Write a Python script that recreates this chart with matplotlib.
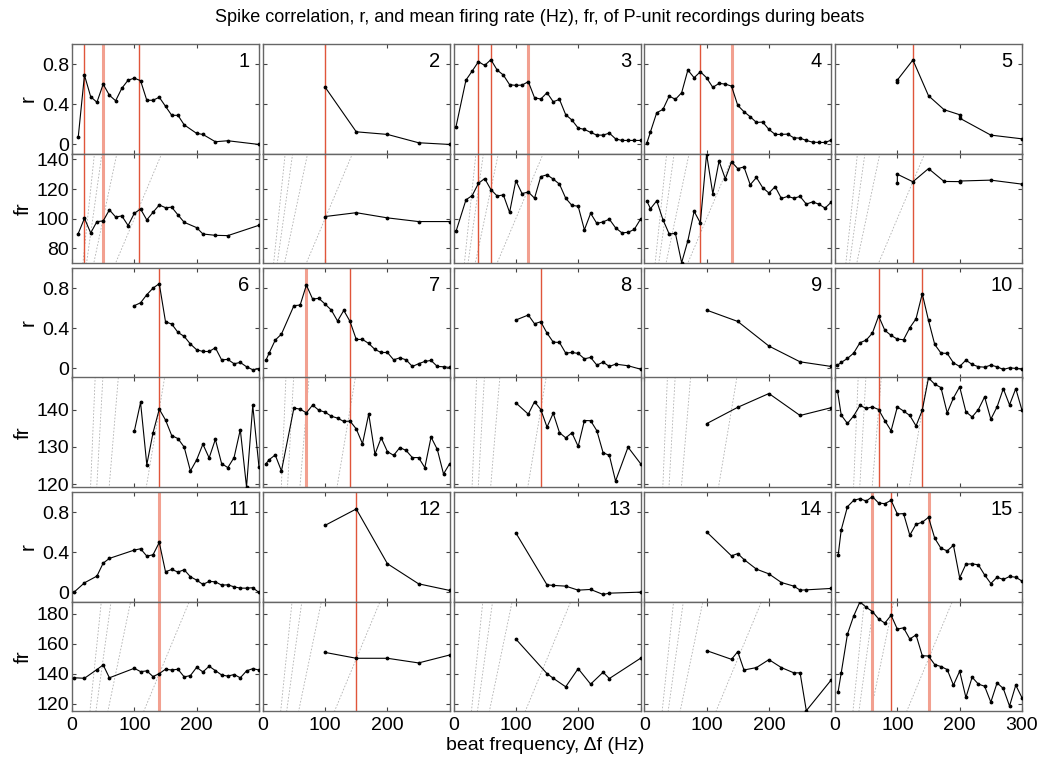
import numpy as np
import matplotlib.pyplot as plt

plt.rcParams['font.family'] = ['Liberation Sans', 'DejaVu Sans']

# beat frequencies (Hz), spike correlation r and firing rate fr, per recording
df1 = [10, 20, 30, 40, 50, 60, 70, 80, 90, 100, 110, 120, 130, 140, 150, 160, 170, 180, 200, 210, 230, 250, 300]
r1 = [0.073, 0.69, 0.475, 0.42, 0.60, 0.49, 0.435, 0.56, 0.64, 0.66, 0.635, 0.44, 0.44, 0.47, 0.38, 0.29,
      0.29, 0.195, 0.11, 0.10, 0.027, 0.037, 0.0]
fr1 = [89.9, 100.2, 90.3, 98.0, 98.4, 105.9, 101.1, 101.8, 95.3, 103.6, 106.5, 99.1, 104.3, 109.2, 107.4,
       107.7, 102.5, 97.5, 93.9, 89.6, 88.7, 88.5, 95.5]

df2 = [100, 150, 200, 250, 300]
r2 = [0.571, 0.126, 0.10, 0.017, 0.0]
fr2 = [101.4, 104.0, 100.5, 98.0, 98.0]

df3 = [4, 20, 30, 40, 50, 60, 70, 80, 90, 100, 110, 120, 130, 140, 150, 160, 170, 180, 190, 200,
       210, 220, 230, 240, 250, 260, 270, 280, 290, 300]
r3 = [0.176, 0.641, 0.731, 0.824, 0.787, 0.844, 0.741, 0.691, 0.595, 0.588, 0.591, 0.625, 0.465, 0.452,
      0.515, 0.425, 0.449, 0.296, 0.243, 0.163, 0.150, 0.120, 0.093, 0.093, 0.113, 0.056, 0.040, 0.040,
      0.040, 0.040]
fr3 = [91.3, 112.7, 115.6, 123.8, 127.1, 119.6, 115.3, 116.0, 104.2, 125.6, 116.9, 118.0, 113.8, 128.4,
       129.6, 126.7, 123.3, 113.8, 108.9, 108.4, 92.4, 103.6, 96.7, 97.8, 99.6, 93.8, 90.4, 90.7, 92.7, 99.6]

df4 = [4, 10, 20, 30, 40, 50, 60, 70, 80, 90, 100, 110, 120, 130, 140, 150, 160, 170, 180, 190, 200,
       210, 220, 230, 240, 250, 260, 270, 280, 290, 300]
r4 = [0.01, 0.126, 0.316, 0.349, 0.482, 0.449, 0.515, 0.741, 0.664, 0.724, 0.664, 0.568, 0.608, 0.601,
      0.581, 0.389, 0.326, 0.276, 0.219, 0.223, 0.150, 0.10, 0.10, 0.103, 0.066, 0.063, 0.040, 0.023,
      0.020, 0.020, 0.043]
fr4 = [112.0, 106.7, 112.0, 99.3, 89.6, 90.0, 70.2, 85.1, 104.9, 97.1, 143.6, 116.7, 138.9, 126.9, 138.4,
       133.8, 134.9, 122.9, 127.8, 120.9, 117.3, 121.6, 113.6, 115.0, 113.8, 115.0, 109.8, 111.3, 109.8,
       107.1, 111.1]

df5 = [100, 100, 125, 150, 175, 200, 200, 250, 300]
r5 = [0.618, 0.641, 0.841, 0.485, 0.346, 0.296, 0.262, 0.093, 0.056]
fr5 = [123.8, 130.0, 124.9, 133.8, 125.1, 125.0, 125.4, 126.0, 123.3]

df6 = [100, 110, 120, 130, 140, 150, 160, 170, 180, 190, 200, 210, 220, 230, 240, 250, 260, 270, 280, 290, 300]
r6 = [0.625, 0.654, 0.734, 0.80, 0.844, 0.465, 0.442, 0.359, 0.319, 0.243, 0.186, 0.169, 0.169, 0.206,
      0.086, 0.09, 0.047, 0.06, 0.017, -0.013, -0.003]
fr6 = [134.2, 141.9, 125.2, 133.75, 140.1, 137.2, 133.0, 132.2, 129.9, 123.5, 126.5, 130.7, 127.0, 132.0,
       125.5, 124.4, 127.1, 134.6, 119.2, 141.1, 124.5]

df7 = [5, 10, 20, 30, 50, 60, 70, 80, 90, 100, 110, 120, 130, 140, 150, 160, 170, 180, 190, 200,
       210, 220, 230, 240, 250, 260, 270, 280, 290, 300]
r7 = [0.08, 0.15, 0.282, 0.342, 0.625, 0.631, 0.83, 0.691, 0.698, 0.641, 0.581, 0.472, 0.578, 0.468,
      0.289, 0.289, 0.249, 0.189, 0.159, 0.159, 0.086, 0.106, 0.086, 0.02, 0.047, 0.07, 0.08, 0.02, 0.017, 0.01]
fr7 = [125.4, 126.5, 127.8, 123.5, 140.4, 140.1, 139.1, 141.2, 139.8, 139.3, 138.2, 137.7, 136.8, 136.9,
       134.8, 130.8, 138.8, 128.0, 132.4, 128.7, 127.7, 129.8, 129.0, 127.1, 127.1, 124.4, 132.6, 129.3,
       122.7, 125.5]

df8 = [100, 120, 130, 140, 150, 160, 170, 180, 190, 200, 210, 220, 230, 240, 250, 260, 280, 300]
r8 = [0.482, 0.532, 0.445, 0.465, 0.352, 0.262, 0.259, 0.153, 0.159, 0.15, 0.096, 0.11, 0.033, 0.063,
      0.02, 0.043, 0.027, -0.007]
fr8 = [141.8, 138.75, 142.1, 140.0, 135.3, 139.0, 133.8, 132.4, 133.75, 130.1, 137.05, 137.0, 134.3,
       128.4, 127.7, 120.8, 129.9, 125.5]

df9 = [100, 150, 200, 250, 300]
r9 = [0.581, 0.468, 0.223, 0.066, 0.02]
fr9 = [136.2, 140.6, 144.3, 138.4, 140.5]

df10 = [4, 10, 20, 30, 40, 50, 60, 70, 80, 90, 100, 110, 120, 130, 140, 150, 160, 170, 180, 190, 200,
        210, 220, 230, 240, 250, 260, 270, 280, 290, 300]
r10 = [0.033, 0.06, 0.10, 0.153, 0.256, 0.282, 0.352, 0.522, 0.379, 0.329, 0.292, 0.286, 0.405, 0.495,
       0.744, 0.478, 0.239, 0.153, 0.15, 0.056, 0.02, 0.083, 0.04, 0.017, 0.013, 0.033, 0.017, -0.01,
       0.007, 0.0, -0.007]
fr10 = [145.0, 138.5, 136.25, 138.3, 141.1, 140.3, 140.7, 140.0, 137.0, 134.3, 140.7, 139.6, 138.4,
        135.6, 139.8, 148.5, 146.8, 145.9, 139.1, 143.1, 146.1, 139.4, 138.0, 140.0, 143.4, 137.4, 140.7,
        145.6, 141.25, 145.6, 139.8]

df11 = [4, 20, 40, 50, 60, 100, 110, 120, 130, 140, 150, 160, 170, 180, 190, 200, 210, 220, 230, 240,
        250, 260, 270, 280, 290, 300]
r11 = [0.007, 0.096, 0.163, 0.292, 0.339, 0.422, 0.435, 0.362, 0.375, 0.498, 0.206, 0.229, 0.203, 0.226,
       0.156, 0.123, 0.08, 0.11, 0.106, 0.073, 0.076, 0.056, 0.043, 0.043, 0.047, 0.0]
fr11 = [137.4, 137.1, 142.9, 146.0, 137.4, 143.75, 141.5, 142.0, 138.2, 140.2, 143.1, 142.6, 143.1,
        138.0, 138.9, 144.4, 141.3, 145.1, 142.2, 139.3, 138.5, 139.6, 137.4, 142.0, 143.5, 142.6]

df12 = [100, 150, 200, 250, 300]
r12 = [0.668, 0.831, 0.286, 0.086, 0.02]
fr12 = [154.3, 150.4, 150.4, 147.3, 152.6]

df13 = [100, 150, 160, 180, 200, 220, 240, 250, 300]
r13 = [0.593, 0.076, 0.07, 0.063, 0.023, 0.03, -0.02, -0.007, 0.003]
fr13 = [163.2, 140.2, 137.1, 131.4, 143.5, 133.2, 141.1, 136.9, 150.4]

df14 = [100, 140, 150, 160, 180, 200, 220, 240, 250, 260, 300]
r14 = [0.603, 0.364, 0.387, 0.328, 0.232, 0.185, 0.099, 0.063, 0.023, 0.026, 0.04]
fr14 = [155.5, 149.7, 154.8, 142.6, 144.2, 149.5, 144.2, 140.7, 140.7, 115.5, 136.0]

df15 = [5, 10, 20, 30, 40, 50, 60, 70, 80, 90, 100, 110, 120, 130, 140, 150, 160, 170, 180, 190, 200,
        210, 220, 230, 240, 250, 260, 270, 280, 290, 300]
r15 = [0.368, 0.623, 0.854, 0.917, 0.934, 0.91, 0.954, 0.89, 0.884, 0.917, 0.781, 0.785, 0.570, 0.679,
       0.699, 0.748, 0.540, 0.440, 0.414, 0.470, 0.146, 0.281, 0.285, 0.275, 0.175, 0.089, 0.152, 0.129,
       0.159, 0.152, 0.113]
fr15 = [128.1, 140.7, 166.5, 178.6, 187.9, 184.4, 181.5, 176.6, 173.8, 179.1, 169.8, 170.7, 163.2, 166.0,
        152.1, 151.9, 146.2, 144.9, 142.9, 132.5, 141.8, 124.3, 137.8, 133.2, 131.8, 121.2, 134.0, 130.3,
        118.6, 132.5, 124.1]

dfs = [df1, df2, df3, df4, df5, df6, df7, df8, df9, df10, df11, df12, df13, df14, df15]
rs = [r1, r2, r3, r4, r5, r6, r7, r8, r9, r10, r11, r12, r13, r14, r15]
frs = [fr1, fr2, fr3, fr4, fr5, fr6, fr7, fr8, fr9, fr10, fr11, fr12, fr13, fr14, fr15]

# marked beat frequencies (red) and secondary marks (light red)
red_marks = [[20, 108], [100], [40, 60], [90], [125], [140], [140], [140], [], [70, 140],
             [], [150], [], [], [90]]
pink_marks = [[50], [], [120], [140], [], [], [70], [], [], [],
              [140], [], [], [], [60, 150]]

fr_lims = [(70, 144), (119.2, 148.6), (115.3, 188.2)]
fr_ticks = [[80, 100, 120, 140], [120, 130, 140], [120, 140, 160, 180]]
harmonics = [1, 2, 3, 4]

W, H = 1040, 757
fig = plt.figure(figsize=(W / 100, H / 100), dpi=100)
frame_col = '#666666'


def style(ax):
    ax.tick_params(direction='in', top=True, right=True, length=3, width=0.8,
                   color='#444444', labelsize=14, pad=2)
    ax.tick_params(axis='x', pad=4)
    for s in ax.spines.values():
        s.set_color(frame_col)
        s.set_linewidth(1.0)
    ax.set_xlim(0, 300)
    ax.set_xticks([0, 100, 200, 300])


for k in range(15):
    row, col = divmod(k, 5)
    left = 72 + col * 190.75
    top = 44 + row * 224
    half = 109.5
    ax_r = fig.add_axes([left / W, 1 - (top + half) / H, 187 / W, half / H])
    ax_f = fig.add_axes([left / W, 1 - (top + 2 * half) / H, 187 / W, half / H])

    # firing rate harmonics fr = n * df
    xx = np.array([0, 300])
    for n in harmonics:
        ax_f.plot(xx, n * xx, color='#b0b0b0', lw=0.6, ls=(0, (2, 2)), zorder=1)

    for ax in (ax_r, ax_f):
        for m in red_marks[k]:
            ax.axvline(m, color='#e0553a', lw=1.0, zorder=2)
        for m in pink_marks[k]:
            ax.axvline(m, color='#f2a090', lw=2.2, zorder=2)

    ax_r.plot(dfs[k], rs[k], color='black', lw=0.8, marker='.', ms=3.5, zorder=3)
    ax_f.plot(dfs[k], frs[k], color='black', lw=0.8, marker='.', ms=3.5, zorder=3)

    style(ax_r)
    style(ax_f)
    ax_r.set_ylim(-0.09, 1.0)
    ax_r.set_yticks([0, 0.4, 0.8])
    ax_f.set_ylim(*fr_lims[row])
    ax_f.set_yticks(fr_ticks[row])
    ax_r.set_xticklabels([])
    if row < 2:
        ax_f.set_xticklabels([])
    elif col < 4:
        ax_f.set_xticklabels(['0', '100', '200', ''])
    if col == 0:
        ax_r.set_yticklabels(['0', '0.4', '0.8'])
        fig.text(28 / W, 1 - (top + half / 2) / H, 'r', rotation=90,
                 ha='center', va='center', fontsize=15)
        fig.text(23 / W, 1 - (top + 1.5 * half) / H, 'fr', rotation=90,
                 ha='center', va='center', fontsize=15)
    else:
        ax_r.set_yticklabels([])
        ax_f.set_yticklabels([])
    ax_r.text(0.95, 0.93, str(k + 1), transform=ax_r.transAxes,
              ha='right', va='top', fontsize=14.5)

fig.text(540 / W, 1 - 18 / H,
         'Spike correlation, r, and mean firing rate (Hz), fr, of P-unit recordings during beats',
         ha='center', va='center', fontsize=13)
fig.text(545 / W, 1 - 745 / H, 'beat frequency, \u0394f (Hz)',
         ha='center', va='center', fontsize=14)

fig.savefig('out.png', dpi=100)
